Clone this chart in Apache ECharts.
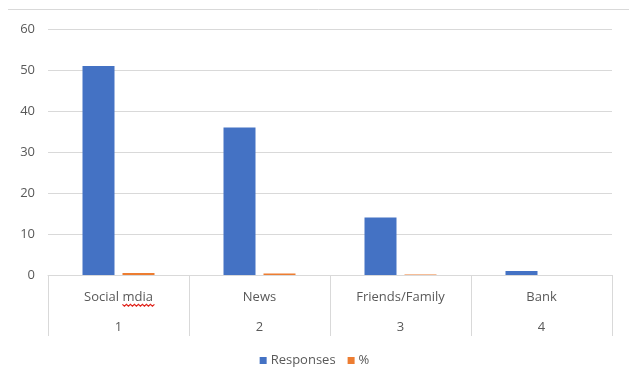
<!DOCTYPE html>
<html>
<head>
<meta charset="utf-8">
<script src="https://cdn.jsdelivr.net/npm/echarts@6/dist/echarts.min.js"></script>
<style>html,body{margin:0;padding:0;background:#fff}#c{width:629px;height:381px}</style>
</head>
<body>
<div id="c"></div>
<script>
var categories = ['Social mdia', 'News', 'Friends/Family', 'Bank'];
var categoryNumbers = ['1', '2', '3', '4'];
var responses = [51, 36, 14, 1];
var percent = [0.51, 0.36, 0.14, 0.01];
var yTicks = [0, 10, 20, 30, 40, 50, 60];

var chart = echarts.init(document.getElementById('c'), null, {renderer: 'canvas'});
var font = 'Open Sans';
var fs = 13;
var txt = '#595959';
var line = '#d9d9d9';
chart.setOption({
  animation: false,
  backgroundColor: '#fff',
  grid: {left: 48, right: 17, top: 29, bottom: 106, containLabel: false},
  xAxis: [{
    type: 'category',
    data: categories,
    axisLine: {show: true, lineStyle: {color: line, width: 1}},
    axisTick: {show: true, length: 61, interval: 0, lineStyle: {color: line, width: 1}},
    axisLabel: {margin: 16, fontFamily: font, fontSize: fs, color: txt, interval: 0},
    splitLine: {show: false}
  }, {
    type: 'category',
    data: categoryNumbers,
    position: 'bottom',
    axisLine: {show: false},
    axisTick: {show: false},
    axisLabel: {margin: 46, fontFamily: font, fontSize: fs, color: txt, interval: 0}
  }],
  yAxis: {
    type: 'value',
    min: yTicks[0],
    max: yTicks[yTicks.length - 1],
    interval: 10,
    axisLine: {show: false},
    axisTick: {show: false},
    axisLabel: {margin: 13, fontFamily: font, fontSize: fs, color: txt},
    splitLine: {lineStyle: {color: line, width: 1}}
  },
  legend: {
    bottom: 9,
    left: 'center',
    icon: 'rect',
    itemWidth: 7,
    itemHeight: 7,
    itemGap: 12,
    textStyle: {fontFamily: font, fontSize: fs, color: txt, padding: [0, 0, 0, -1]},
    data: ['Responses', '%']
  },
  series: [{
    name: 'Responses',
    type: 'bar',
    data: responses,
    barWidth: 32,
    barGap: '25%',
    itemStyle: {color: '#4472C4'}
  }, {
    name: '%',
    type: 'bar',
    data: percent,
    barWidth: 32,
    itemStyle: {color: '#ED7D31'}
  }]
});

// spell-check style wavy underline under "mdia"
var ctx = document.createElement('canvas').getContext('2d');
ctx.font = fs + 'px "' + font + '"';
var full = ctx.measureText(categories[0]).width;
var pre = ctx.measureText('Social ').width;
var cx = chart.convertToPixel({xAxisIndex: 0}, categories[0]);
var y0 = chart.convertToPixel({yAxisIndex: 0}, 0);
var startX = cx - full / 2 + pre;
var endX = cx + full / 2 + 2;
var uy = y0 + 16 + fs + 1;
var pts = [];
var k = 0;
for (var x = startX; x <= endX; x += 2) {
  pts.push([x, uy + (k % 2 ? 1.2 : -0.6)]);
  k++;
}
chart.setOption({
  graphic: [{
    type: 'line',
    shape: {x1: 8, y1: 9.5, x2: 629, y2: 9.5},
    style: {stroke: line, lineWidth: 1}
  }, {
    type: 'polyline',
    shape: {points: pts},
    style: {stroke: '#e0221a', lineWidth: 1.2, fill: null}
  }]
});
</script>
</body>
</html>
